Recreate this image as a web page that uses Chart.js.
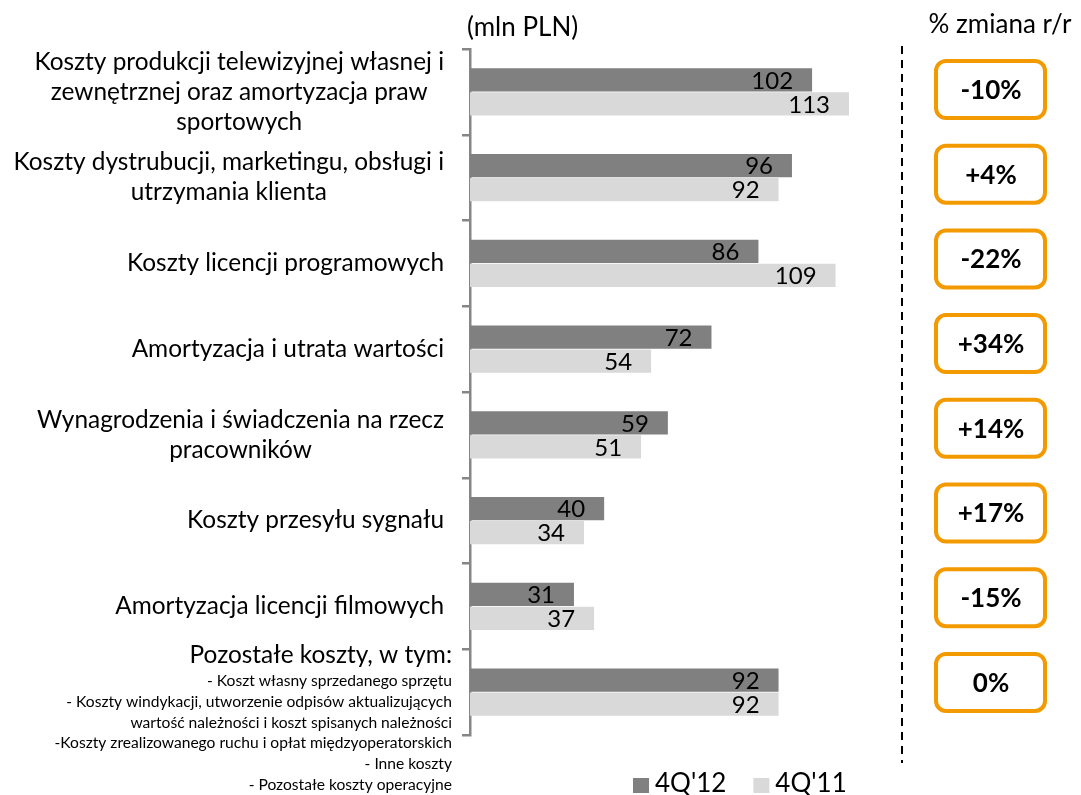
<!DOCTYPE html>
<html>
<head>
<meta charset="utf-8">
<script src="https://cdn.jsdelivr.net/npm/chart.js@4.4.1/dist/chart.umd.min.js"></script>
<style>
  html, body { margin: 0; padding: 0; background: #fff; }
  #wrap { width: 1081px; height: 795px; }
</style>
</head>
<body>
<div id="wrap"><canvas id="costChart" width="1081" height="795"></canvas></div>
<script>
// kategorie kosztów (linie etykiety)
const categories = [
  ['Koszty produkcji telewizyjnej własnej i', 'zewnętrznej oraz amortyzacja praw', 'sportowych'],
  ['Koszty dystrubucji, marketingu, obsługi i', 'utrzymania klienta'],
  ['Koszty licencji programowych'],
  ['Amortyzacja i utrata wartości'],
  ['Wynagrodzenia i świadczenia na rzecz', 'pracowników'],
  ['Koszty przesyłu sygnału'],
  ['Amortyzacja licencji filmowych'],
  ['Pozostałe koszty, w tym:']
];
const otherCostItems = [
  '- Koszt własny sprzedanego sprzętu',
  '- Koszty windykacji, utworzenie odpisów aktualizujących',
  'wartość należności i koszt spisanych należności',
  '-Koszty zrealizowanego ruchu i opłat międzyoperatorskich',
  '- Inne koszty',
  '- Pozostałe koszty operacyjne'
];
const seriesNames = ["4Q'12", "4Q'11"];
const values4Q12 = [102, 96, 86, 72, 59, 40, 31, 92];
const values4Q11 = [113, 92, 109, 54, 51, 34, 37, 92];
const changeLabels = ['-10%', '+4%', '-22%', '+34%', '+14%', '+17%', '-15%', '0%'];

const FONT = 'Lato, "Open Sans", sans-serif';
const DARK = '#808080';
const LIGHT = '#D9D9D9';
const ORANGE = '#F39A00';

function roundRect(ctx, x, y, w, h, r) {
  ctx.beginPath();
  ctx.moveTo(x + r, y);
  ctx.lineTo(x + w - r, y);
  ctx.arcTo(x + w, y, x + w, y + r, r);
  ctx.lineTo(x + w, y + h - r);
  ctx.arcTo(x + w, y + h, x + w - r, y + h, r);
  ctx.lineTo(x + r, y + h);
  ctx.arcTo(x, y + h, x, y + h - r, r);
  ctx.lineTo(x, y + r);
  ctx.arcTo(x, y, x + r, y, r);
  ctx.closePath();
}

// etykiety, wartości, ramki ze zmianą r/r, legenda
const annotations = {
  id: 'annotations',
  afterDraw(chart) {
    const ctx = chart.ctx;
    const yScale = chart.scales.y;
    const area = chart.chartArea;
    ctx.save();
    ctx.fillStyle = '#000';
    ctx.textBaseline = 'middle';

    // etykiety kategorii
    ctx.font = '24.4px ' + FONT;
    const labelRight = area.left - 26;
    categories.forEach((lines, i) => {
      const cy = yScale.getPixelForValue(i);
      if (i === categories.length - 1) {
        ctx.textAlign = 'right';
        ctx.font = '24.4px ' + FONT;
        ctx.fillText(lines[0], area.left - 18, cy - 37);
        ctx.font = '15.6px ' + FONT;
        otherCostItems.forEach((t, k) => ctx.fillText(t, area.left - 18, cy - 11 + k * 20.7));
        return;
      }
      const blockW = Math.max(...lines.map(l => ctx.measureText(l).width));
      ctx.textAlign = 'center';
      lines.forEach((l, k) => {
        ctx.fillText(l, labelRight - blockW / 2, cy + (k - (lines.length - 1) / 2) * 30);
      });
    });

    // wartości w słupkach
    ctx.font = '24px ' + FONT;
    ctx.textAlign = 'right';
    chart.data.datasets.forEach((ds, d) => {
      chart.getDatasetMeta(d).data.forEach((bar, i) => {
        ctx.fillText(String(ds.data[i]), bar.x - 19, bar.y + 1);
      });
    });

    // nagłówki
    ctx.font = '26px ' + FONT;
    ctx.textAlign = 'left';
    ctx.fillText('(mln PLN)', area.left - 3, 28);
    ctx.textAlign = 'center';
    ctx.fillText('% zmiana r/r', 1000, 25);

    // linia przerywana
    ctx.strokeStyle = '#000';
    ctx.lineWidth = 2;
    ctx.setLineDash([8, 6]);
    ctx.beginPath();
    ctx.moveTo(area.right - 4, 46);
    ctx.lineTo(area.right - 4, 763);
    ctx.stroke();
    ctx.setLineDash([]);

    // ramki ze zmianą %
    ctx.lineWidth = 4;
    ctx.strokeStyle = ORANGE;
    ctx.font = 'bold 26px ' + FONT;
    changeLabels.forEach((t, i) => {
      const cy = area.top + 40.5 + i * 84.7;
      roundRect(ctx, 936, cy - 28.5, 109, 57, 10);
      ctx.stroke();
      ctx.fillText(t, 991, cy + 1);
    });

    // legenda
    ctx.font = '26px ' + FONT;
    ctx.textAlign = 'left';
    let x = 633;
    chart.data.datasets.forEach(ds => {
      ctx.fillStyle = ds.backgroundColor;
      ctx.fillRect(x, 778, 16, 15);
      ctx.fillStyle = '#000';
      ctx.fillText(ds.label, x + 22, 784);
      x += 22 + ctx.measureText(ds.label).width + 27;
    });
    ctx.restore();
  }
};

new Chart(document.getElementById('costChart'), {
  type: 'bar',
  data: {
    labels: categories.map(c => c.join(' ')),
    datasets: [
      { label: seriesNames[0], data: values4Q12, backgroundColor: DARK },
      { label: seriesNames[1], data: values4Q11, backgroundColor: LIGHT }
    ]
  },
  options: {
    indexAxis: 'y',
    responsive: false,
    animation: false,
    layout: { padding: { top: 49, right: 175, bottom: 60, left: 0 } },
    datasets: { bar: { categoryPercentage: 0.56, barPercentage: 0.96 } },
    scales: {
      x: { display: false, min: 0, max: 130 },
      y: {
        z: 1,
        grid: { drawOnChartArea: false, tickLength: 8, color: '#868686', lineWidth: 2.5 },
        border: { color: '#868686', width: 2.5 },
        ticks: { display: false },
        afterFit(scale) { scale.width = 470; }
      }
    },
    plugins: {
      legend: { display: false },
      tooltip: { enabled: false }
    }
  },
  plugins: [annotations]
});
</script>
</body>
</html>
